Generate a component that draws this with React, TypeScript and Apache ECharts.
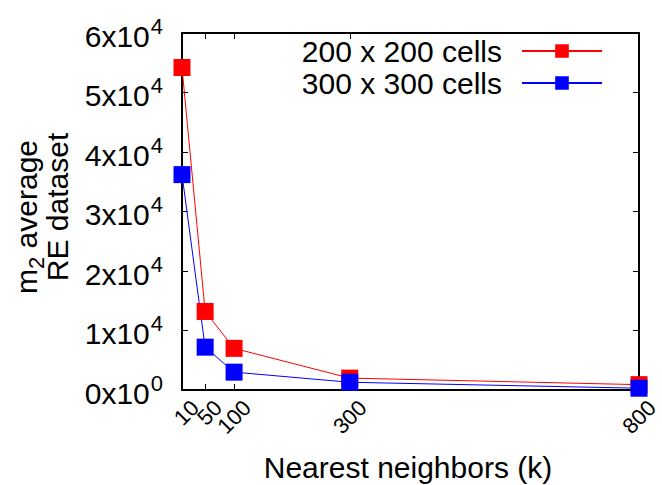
import React, { useEffect, useRef } from "react";
import * as echarts from "echarts";

// Nearest-neighbour counts on the x axis
const neighbors = [10, 50, 100, 300, 800];
// Average m2 relative error per grid resolution
const grid200 = [54200, 13200, 7000, 2000, 900];
const grid300 = [36200, 7200, 3000, 1300, 300];
const seriesNames = ["200 x 200 cells", "300 x 300 cells"];
// Y tick values, printed in "MxN^E" form
const yTickValues = [0, 10000, 20000, 30000, 40000, 50000, 60000];
// The crowded low-k tick labels are spread over several overlaid axes so
// ECharts' min-label overlap check never drops one of them.
const xLabelGroups = [
  [10, 300],
  [50, 800],
  [100],
];

const FONT = "'Liberation Sans', Arial, Helvetica, sans-serif";
const BIG = 30;
const SUP = 22;

function sciLabel(v: number): string {
  if (v === 0) return "{b|0x10}{s|0}";
  const e = Math.floor(Math.log10(Math.abs(v)));
  const m = Math.round(v / Math.pow(10, e));
  return `{b|${m}x10}{s|${e}}`;
}

export default function App() {
  const ref = useRef<HTMLDivElement>(null);

  useEffect(() => {
    if (!ref.current) return;
    const chart = echarts.init(ref.current, null, { renderer: "svg" });
    const toPairs = (ys: number[]) => neighbors.map((x, i) => [x, ys[i]]);

    const frameLine = { show: true, onZero: false, lineStyle: { color: "#000", width: 2 } };
    const innerTick = { show: true, inside: true, length: 6, lineStyle: { color: "#000", width: 1 } };

    const labelAxes = xLabelGroups.map((vals) => ({
      type: "value",
      min: 10,
      max: 800,
      position: "bottom",
      offset: 0,
      axisLine: { show: false, onZero: false },
      splitLine: { show: false },
      axisTick: { show: false },
      axisLabel: {
        customValues: vals,
        showMinLabel: true,
        showMaxLabel: true,
        rotate: 45,
        margin: 1,
        color: "#000",
        formatter: (v: number) => `{t|${v}}`,
        rich: {
          t: { fontSize: 22, fontFamily: FONT, color: "#000", padding: [37, 0, 0, 0] },
        },
      },
    }));

    chart.setOption({
      animation: false,
      backgroundColor: "#fff",
      textStyle: { fontFamily: FONT },
      grid: { left: 182, right: 22, top: 33, bottom: 95, containLabel: false },
      legend: {
        orient: "vertical",
        right: 54,
        top: 30,
        align: "right",
        itemWidth: 80,
        itemHeight: 17,
        itemGap: 0,
        data: seriesNames,
        textStyle: {
          fontFamily: FONT,
          fontSize: BIG,
          color: "#000",
          lineHeight: 32,
          padding: [0, 15, 0, 0],
        },
      },
      xAxis: [
        {
          type: "value",
          min: 10,
          max: 800,
          position: "bottom",
          axisLine: frameLine,
          splitLine: { show: false },
          axisTick: { ...innerTick, customValues: neighbors },
          axisLabel: { show: false },
        },
        {
          type: "value",
          min: 10,
          max: 800,
          position: "top",
          axisLine: frameLine,
          splitLine: { show: false },
          axisTick: { ...innerTick, customValues: neighbors },
          axisLabel: { show: false },
        },
        ...labelAxes,
      ],
      yAxis: [
        {
          type: "value",
          min: 0,
          max: 60000,
          interval: 10000,
          position: "left",
          axisLine: frameLine,
          splitLine: { show: false },
          axisTick: innerTick,
          axisLabel: {
            margin: 19,
            color: "#000",
            customValues: yTickValues,
            formatter: (v: number) => sciLabel(v),
            rich: {
              b: { fontSize: BIG, fontFamily: FONT, color: "#000", lineHeight: 36, verticalAlign: "bottom" },
              s: { fontSize: SUP, fontFamily: FONT, color: "#000", lineHeight: 36, verticalAlign: "top", padding: [0, 0, 13, 1] },
            },
          },
        },
        {
          type: "value",
          min: 0,
          max: 60000,
          interval: 10000,
          position: "right",
          axisLine: frameLine,
          splitLine: { show: false },
          axisTick: innerTick,
          axisLabel: { show: false },
        },
      ],
      series: [
        {
          name: seriesNames[0],
          type: "line",
          xAxisIndex: 0,
          yAxisIndex: 0,
          data: toPairs(grid200),
          symbol: "rect",
          symbolSize: 17,
          clip: false,
          color: "#ff0000",
          lineStyle: { color: "#ff0000", width: 1 },
          itemStyle: { color: "#ff0000" },
        },
        {
          name: seriesNames[1],
          type: "line",
          xAxisIndex: 0,
          yAxisIndex: 0,
          data: toPairs(grid300),
          symbol: "rect",
          symbolSize: 17,
          clip: false,
          color: "#0000ff",
          lineStyle: { color: "#0000ff", width: 1 },
          itemStyle: { color: "#0000ff" },
        },
      ],
      graphic: [
        {
          type: "text",
          x: 29,
          y: 217,
          rotation: Math.PI / 2,
          style: {
            text: "{b|m}{s|2}{b| average}",
            align: "center",
            verticalAlign: "middle",
            fill: "#000",
            rich: {
              b: { fontSize: BIG, fontFamily: FONT, fill: "#000", lineHeight: 36, verticalAlign: "top" },
              s: { fontSize: SUP, fontFamily: FONT, fill: "#000", lineHeight: 36, verticalAlign: "bottom", padding: [9, 0, 0, 0] },
            },
          },
        },
        {
          type: "text",
          x: 57,
          y: 207,
          rotation: Math.PI / 2,
          style: {
            text: "RE dataset",
            align: "center",
            verticalAlign: "middle",
            fontSize: BIG,
            fontFamily: FONT,
            fill: "#000",
          },
        },
        {
          type: "text",
          x: 408,
          y: 467,
          style: {
            text: "Nearest neighbors (k)",
            align: "center",
            verticalAlign: "middle",
            fontSize: BIG,
            fontFamily: FONT,
            fill: "#000",
          },
        },
      ],
    });

    return () => chart.dispose();
  }, []);

  return (
    <div
      ref={ref}
      style={{ position: "absolute", left: 0, top: 0, width: 662, height: 485 }}
    />
  );
}
